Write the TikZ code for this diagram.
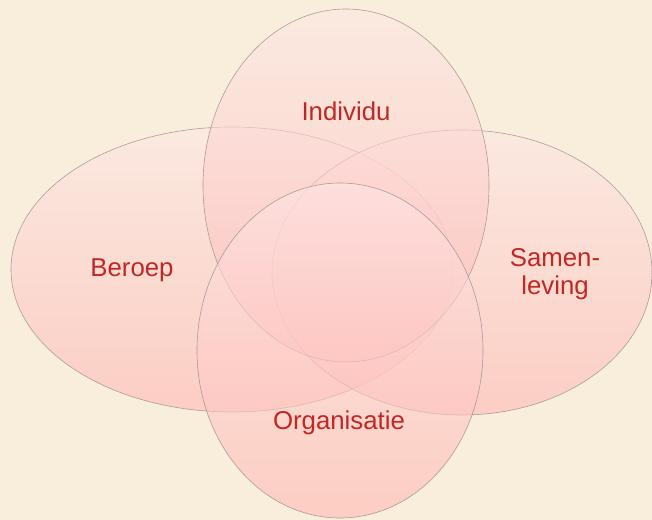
\documentclass[tikz,border=0pt]{standalone}
\usepackage{fontspec}
\setmainfont{Liberation Sans}
\definecolor{bg}{RGB}{248,238,219}
\definecolor{ftop}{RGB}{253,230,228}
\definecolor{fbot}{RGB}{255,184,180}
\definecolor{edge}{RGB}{150,140,140}
\definecolor{txt}{RGB}{192,40,38}
\tikzset{
  petal/.style={top color=ftop, bottom color=fbot, shading angle=0, fill opacity=0.6, draw=edge, draw opacity=0.8, line width=0.6bp},
  lbl/.style={text=txt, inner sep=0pt, font=\fontsize{25.8bp}{27.5bp}\selectfont, align=center}
}
\begin{document}
\begin{tikzpicture}[x=1bp,y=-1bp]
\fill[bg] (0,0) rectangle (652,520);
\useasboundingbox (0,0) rectangle (652,520);
\path[petal] (232,269.5) ellipse [x radius=221, y radius=142.5];
\path[petal] (462,272.5) ellipse [x radius=190, y radius=142.5];
\path[petal] (346,185.5) ellipse [x radius=143, y radius=176.5];
\path[petal] (340,350.5) ellipse [x radius=143, y radius=167.5];
\node[lbl, anchor=base] (individu) at (346,121) {Individu};
\node[lbl, anchor=base] (beroep) at (132,276.5) {Beroep};
\node[lbl, anchor=base] (samenleving) at (555,294) {Samen-\\leving};
\node[lbl, anchor=base] (organisatie) at (339,429) {Organisatie};
\end{tikzpicture}
\end{document}
